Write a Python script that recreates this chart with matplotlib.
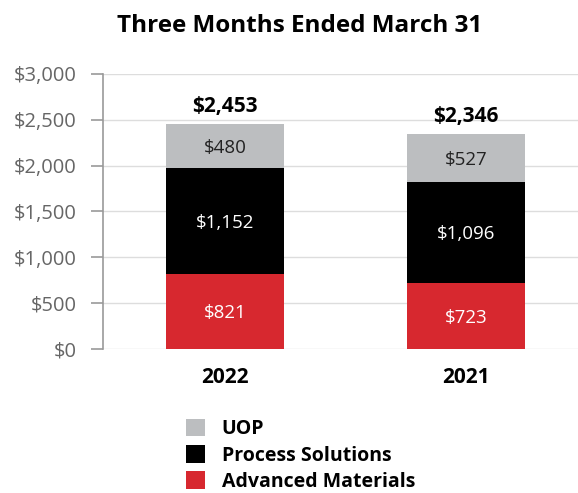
import matplotlib.pyplot as plt
import numpy as np

plt.rcParams['font.family'] = ['Open Sans', 'DejaVu Sans']

years = ["2022", "2021"]
advanced = [821, 723]
process = [1152, 1096]
uop = [480, 527]
totals = [2453, 2346]
yticks = [0, 500, 1000, 1500, 2000, 2500, 3000]

red = "#d7282f"
black = "#000000"
grey = "#bcbec0"

fig = plt.figure(figsize=(5.78, 4.93), dpi=100)
ax = fig.add_axes([0.178, 0.292, 0.822, 0.558])

x = np.arange(len(years))
w = 0.49
b1 = ax.bar(x, advanced, w, color=red, label="Advanced Materials", zorder=3)
b2 = ax.bar(x, process, w, bottom=advanced, color=black, label="Process Solutions", zorder=3)
bottom2 = np.array(advanced) + np.array(process)
b3 = ax.bar(x, uop, w, bottom=bottom2, color=grey, label="UOP", zorder=3)

for i in range(len(years)):
    ax.text(x[i], advanced[i] / 2 - 20, f"${advanced[i]:,}", ha="center", va="center",
            color="white", fontsize=13.5, zorder=4)
    ax.text(x[i], advanced[i] + process[i] / 2 - 20, f"${process[i]:,}", ha="center", va="center",
            color="white", fontsize=13.5, zorder=4)
    ax.text(x[i], bottom2[i] + uop[i] / 2 - 20, f"${uop[i]:,}", ha="center", va="center",
            color="#222222", fontsize=13.5, zorder=4)
    ax.text(x[i], totals[i] + 80, f"${totals[i]:,}", ha="center", va="bottom",
            fontweight="bold", fontsize=15, zorder=4)

ax.set_xlim(-0.506, 1.465)
ax.set_ylim(0, 3000)
ax.set_yticks(yticks)
ax.set_yticklabels([f"${v:,}" for v in yticks], color="#666666", fontsize=14.5)
ax.set_xticks(x)
ax.set_xticklabels(years, fontweight="bold", fontsize=15)
ax.tick_params(axis="x", length=0, pad=13)
ax.tick_params(axis="y", length=9, color="#999999", width=1.2, pad=10)
ax.grid(axis="y", color="#dddddd", linewidth=1, zorder=0)
for s in ["top", "right", "bottom"]:
    ax.spines[s].set_visible(False)
ax.spines["left"].set_color("#999999")
ax.spines["left"].set_linewidth(1.2)

fig.suptitle("Three Months Ended March 31", x=0.519, y=0.972, fontweight="bold", fontsize=17.5)

fig.legend(handles=[b3, b2, b1], loc="upper left", bbox_to_anchor=(0.322, 0.15),
           frameon=False, handlelength=0.97, handleheight=1.0,
           handletextpad=0.85, labelspacing=0.3, borderaxespad=0, borderpad=0,
           prop={"weight": "bold", "size": 14})

fig.savefig("out.png", dpi=100)
